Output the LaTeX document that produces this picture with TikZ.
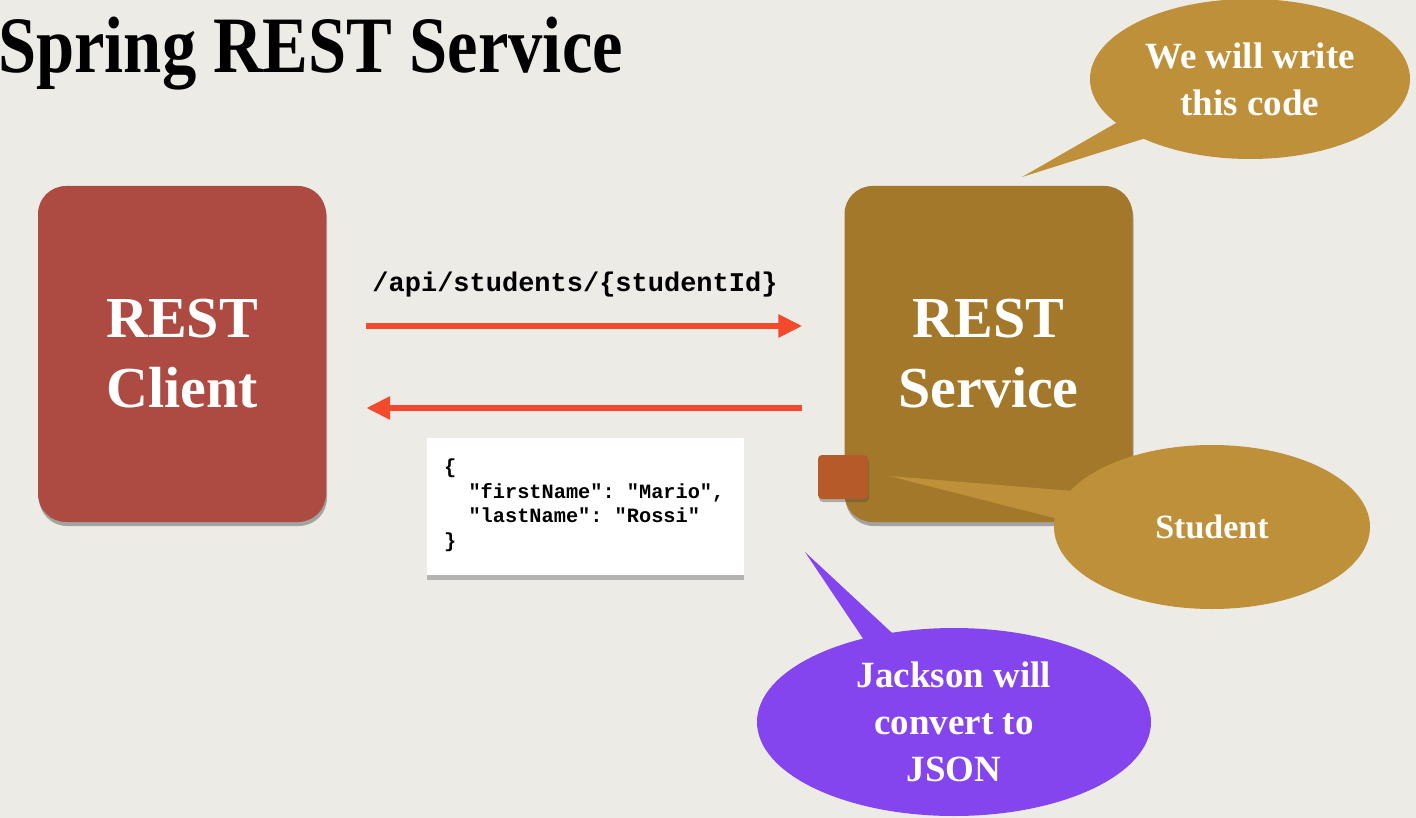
\documentclass[tikz,border=0pt]{standalone}
\usepackage{fontspec}
\setmainfont{Liberation Serif}
\setmonofont{Liberation Mono}
\usetikzlibrary{shapes.geometric,arrows.meta,shadows}
\definecolor{bg}{HTML}{EDEBE6}
\definecolor{clientc}{HTML}{AD4B43}
\definecolor{servicec}{HTML}{A3782A}
\definecolor{goldc}{HTML}{BE9039}
\definecolor{purplec}{HTML}{8444EE}
\definecolor{arrowc}{HTML}{F24A2A}
\definecolor{squarec}{HTML}{B65A28}
\tikzset{
  bigbox/.style={rounded corners=28pt, minimum width=288pt, minimum height=336pt,
    inner sep=0pt, text=white, align=center,
    font=\bfseries\fontsize{58}{70}\selectfont,
    drop shadow={shadow xshift=1pt, shadow yshift=-4pt, opacity=0.45, fill=black!70}},
  bubble/.style={ellipse, inner sep=0pt, text=white, align=center,
    font=\bfseries\fontsize{37}{47}\selectfont},
  flow/.style={draw=arrowc, line width=6pt, -{Triangle[length=24pt,width=22pt]}},
}
\begin{document}
\begin{tikzpicture}[x=1pt,y=-1pt]
\useasboundingbox (0,0) rectangle (1416,818);
\fill[bg] (0,0) rectangle (1416,818);

% title
\node[anchor=base west, inner sep=0pt, font=\bfseries\fontsize{80}{90}\selectfont] (title) at (-2,73)
  {\scalebox{0.857}[1]{Spring REST Service}};

% boxes
\node[bigbox, fill=clientc] (client) at (182,354) {REST\\Client};
\node[bigbox, fill=servicec] (service) at (988.5,354) {REST\\Service};

% square (Student object)
\node[fill=squarec, rounded corners=4pt, minimum width=50pt, minimum height=44pt, inner sep=0pt,
  drop shadow={shadow xshift=1pt, shadow yshift=-3pt, opacity=0.4, fill=black!70}] (sq) at (843,477) {};

% arrows
\draw[flow, shorten <=40pt, shorten >=42pt] ([yshift=28pt]client.east) -- ([yshift=28pt]service.west);
\draw[flow, shorten <=42pt, shorten >=40pt] ([yshift=-54pt]service.west) -- ([yshift=-54pt]client.east);
\node[font=\ttfamily\bfseries\fontsize{27}{30}\selectfont, inner sep=0pt] (url) at (575,285) {/api/students/\{studentId\}};

% JSON box
\node[fill=white, minimum width=317pt, minimum height=137pt, inner sep=0pt,
  drop shadow={shadow xshift=0pt, shadow yshift=-5pt, opacity=0.35, fill=black!70}] (jsonbox) at (585.5,506.5) {};
\node[anchor=north west, inner sep=0pt, align=left, font=\ttfamily\bfseries\fontsize{20.3}{24.5}\selectfont] (jsontext) at (444,459)
  {\{\\\ \ "firstName": "Mario",\\\ \ "lastName": "Rossi"\\\}};

% tails
\fill[goldc] (1022,177) -- (1130,115) -- (1165,132) -- cycle;
\fill[goldc] (889,476) -- (1085,492) -- (1070,522) -- cycle;
\fill[purplec] (805,552) -- (872,652) -- (905,645) -- cycle;

% bubbles
\node[bubble, fill=goldc, minimum width=320pt, minimum height=160pt] (code) at (1250,79) {We will write\\this code};
\node[bubble, fill=goldc, minimum width=316pt, minimum height=164pt, font=\bfseries\fontsize{34}{40}\selectfont] (student) at (1212,527) {Student};
\node[bubble, fill=purplec, minimum width=394pt, minimum height=188pt] (jackson) at (954,722) {Jackson will\\convert to\\JSON};
\end{tikzpicture}
\end{document}
